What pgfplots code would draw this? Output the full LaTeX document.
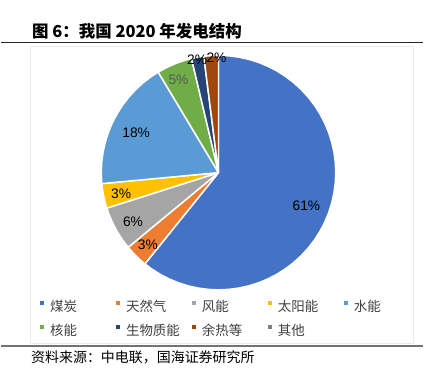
\documentclass[border=0pt]{standalone}
\usepackage{fontspec}
\setmainfont{Liberation Sans}
\newfontfamily\cjk{Noto Sans CJK SC}
\usepackage{pgfplots}
\pgfplotsset{compat=1.18}
\usepgfplotslibrary{polar}
\definecolor{cCoal}{HTML}{4472C4}
\definecolor{cGas}{HTML}{ED7D31}
\definecolor{cWind}{HTML}{A5A5A5}
\definecolor{cSolar}{HTML}{FFC000}
\definecolor{cHydro}{HTML}{5B9BD5}
\definecolor{cNuc}{HTML}{70AD47}
\definecolor{cBio}{HTML}{264478}
\definecolor{cHeat}{HTML}{9E480E}
\definecolor{cOther}{HTML}{7F7F7F}
\definecolor{legtext}{HTML}{404040}
\newcommand{\lbl}{\fontsize{13.8pt}{15pt}\selectfont}
\newcommand{\legent}[1]{\makebox[66.4pt][l]{#1}}
\begin{document}
\begin{tikzpicture}
\fill[white] (0pt,0pt) rectangle (435pt,378pt);
\node[anchor=base west, inner sep=0pt, font=\cjk\bfseries\fontsize{16.5pt}{19pt}\selectfont] at (31pt,340.5pt) {图 6：我国 2020 年发电结构};
\draw[line width=1.3pt, black!85] (0pt,335.3pt) -- (422.7pt,335.3pt);
\draw[black!8, line width=0.6pt] (29.5pt,331.7pt) rectangle (413.3pt,34.4pt);
\draw[line width=2pt, black!55] (0pt,31.3pt) -- (422.7pt,31.3pt);
\node[anchor=base west, inner sep=0pt, font=\cjk\fontsize{14pt}{16pt}\selectfont] at (30pt,14.4pt) {资料来源：中电联，国海证券研究所};
\begin{polaraxis}[
  hide axis, scale only axis, width=235pt, height=235pt,
  xmin=0, xmax=360, ymin=0, ymax=1, clip=false,
  at={(218pt,205pt)}, anchor=center,
  legend columns=5, legend cell align=left,
  legend image code/.code={\fill[#1,draw=none] (0pt,2.2pt) rectangle (4pt,6.2pt);},
  legend style={at={(-0.2594,-0.0462)}, anchor=north west, draw=none, fill=none,
    inner sep=0pt, outer sep=0pt, row sep=10pt,
    font=\cjk\fontsize{13.5pt}{15pt}\selectfont, text=legtext,
    nodes={inner sep=0pt, text height=11pt, text depth=3pt},
    /tikz/every odd column/.append style={column sep=5.7pt}},
  every axis plot/.append style={draw=white, line width=1.5pt, line join=round},
]
\addplot[fill=cCoal] coordinates {(0,0) (90,1) (85,1) (80,1) (75,1) (70,1) (65,1) (60,1) (55,1) (50,1) (45,1) (40,1) (35,1) (30,1) (25,1) (20,1) (15,1) (10,1) (5,1) (0,1) (-5,1) (-10,1) (-15,1) (-20,1) (-25,1) (-30,1) (-35,1) (-40,1) (-45,1) (-50,1) (-55,1) (-60,1) (-65,1) (-70,1) (-75,1) (-80,1) (-85,1) (-90,1) (-95,1) (-100,1) (-105,1) (-110,1) (-115,1) (-120,1) (-125,1) (-128.88,1) (0,0)};
\addlegendentry{\legent{煤炭}}
\addplot[fill=cGas] coordinates {(0,0) (-128.88,1) (-132,1) (-136,1) (-140.4,1) (0,0)};
\addlegendentry{\legent{天然气}}
\addplot[fill=cWind] coordinates {(0,0) (-140.4,1) (-145,1) (-150,1) (-155,1) (-160,1) (-162.36,1) (0,0)};
\addlegendentry{\legent{风能}}
\addplot[fill=cSolar] coordinates {(0,0) (-162.36,1) (-166,1) (-170,1) (-174.6,1) (0,0)};
\addlegendentry{\legent{太阳能}}
\addplot[fill=cHydro] coordinates {(0,0) (-174.6,1) (-180,1) (-185,1) (-190,1) (-195,1) (-200,1) (-205,1) (-210,1) (-215,1) (-220,1) (-225,1) (-230,1) (-235,1) (-239.04,1) (0,0)};
\addlegendentry{\legent{水能}}
\addplot[fill=cNuc] coordinates {(0,0) (-239.04,1) (-244,1) (-249,1) (-254,1) (-256.68,1) (0,0)};
\addlegendentry{\legent{核能}}
\addplot[fill=cBio] coordinates {(0,0) (-256.68,1) (-260,1) (-262.8,1) (0,0)};
\addlegendentry{\legent{生物质能}}
\addplot[fill=cHeat] coordinates {(0,0) (-262.8,1) (-266,1) (-270,1) (0,0)};
\addlegendentry{\legent{余热等}}
\addlegendimage{fill=cOther}
\addlegendentry{\legent{其他}}
\node[font=\lbl] at (axis cs:-20.4,0.80) {61\%};
\node[font=\lbl] at (axis cs:-134.5,0.86) {3\%};
\node[font=\lbl] at (axis cs:-150.3,0.84) {6\%};
\node[font=\lbl] at (axis cs:-167.8,0.85) {3\%};
\node[font=\lbl] at (axis cs:154.25,0.78) {18\%};
\node[font=\lbl, text=black!65] at (axis cs:113.4,0.86) {5\%};
\node[font=\lbl] at (axis cs:100.7,0.98) {2\%};
\node[font=\lbl] at (axis cs:91,0.98) {2\%};
\end{polaraxis}
\end{tikzpicture}
\end{document}
